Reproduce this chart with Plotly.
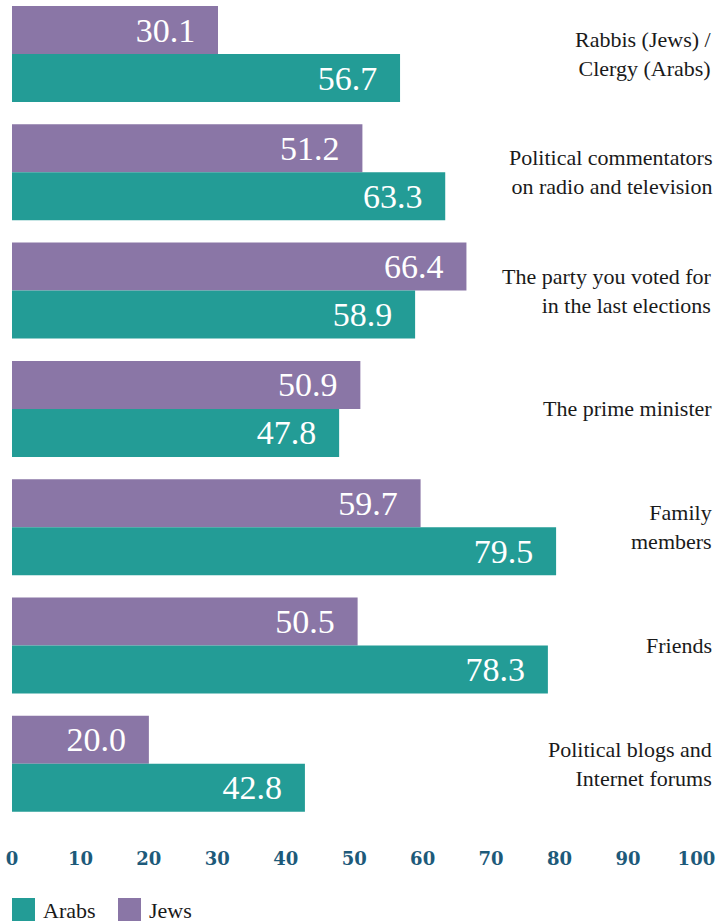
import plotly.graph_objects as go

# Survey categories (top to bottom) and trust levels per group
categories = [
    "Rabbis (Jews) /<br>Clergy (Arabs)",
    "Political commentators<br>on radio and television",
    "The party you voted for<br>in the last elections",
    "The prime minister",
    "Family<br>members",
    "Friends",
    "Political blogs and<br>Internet forums",
]
jews = [30.1, 51.2, 66.4, 50.9, 59.7, 50.5, 20.0]
arabs = [56.7, 63.3, 58.9, 47.8, 79.5, 78.3, 42.8]
x_ticks = [0, 10, 20, 30, 40, 50, 60, 70, 80, 90, 100]

series_names = ["Arabs", "Jews"]
series_colors = ["#239c96", "#8a76a6"]

W, H = 720, 922
M_L, M_R, M_T, M_B = 12, 6, 0, 84
PLOT_H = H - M_T - M_B

SERIF = "Liberation Serif"
LABEL_PAD = "\u00a0\u00a0\u200a"

fig = go.Figure()
for vals, name, color in [(jews, "Jews", series_colors[1]), (arabs, "Arabs", series_colors[0])]:
    fig.add_trace(go.Bar(
        y=categories, x=vals, orientation="h", name=name,
        marker=dict(color=color, line=dict(width=0)),
        text=[f"{v:.1f}{LABEL_PAD}" for v in vals],
        textposition="inside", insidetextanchor="end",
        textfont=dict(family=SERIF, size=34, color="white"),
        constraintext="none", textangle=0, showlegend=False,
    ))

# category slot = 118.3 px, first group centered 54 px below the top
slot = PLOT_H / 7.0835
y_top = -54 / slot
y_bot = (PLOT_H - 54) / slot

fig.update_layout(
    width=W, height=H,
    margin=dict(l=M_L, r=M_R, t=M_T, b=M_B, pad=0),
    paper_bgcolor="white", plot_bgcolor="white",
    barmode="group", bargap=0.1885, bargroupgap=0,
    showlegend=False,
    xaxis=dict(
        range=[0, 702 / 6.844], tickvals=x_ticks, ticktext=[str(t) for t in x_ticks],
        showgrid=False, zeroline=False, showline=False,
        ticks="outside", ticklen=4, tickcolor="rgba(0,0,0,0)",
        tickfont=dict(family="DejaVu Serif", size=18, color="#1d5a7a", weight="bold"),
    ),
    yaxis=dict(
        type="category", categoryorder="array", categoryarray=categories,
        range=[y_bot, y_top], showticklabels=False,
        showgrid=False, zeroline=False, showline=False, ticks="",
    ),
)

# Category names, right-aligned against the right edge of the chart
for cat in categories:
    fig.add_annotation(xref="paper", yref="y", x=1.0, y=cat, text=cat,
                       showarrow=False, xanchor="right", yanchor="middle", align="right",
                       font=dict(family=SERIF, size=22, color="#1a1a1a"))

# Legend: colour swatches with series names beneath the axis
def py(pix):
    return (PLOT_H - (pix - M_T)) / PLOT_H

def px(pix):
    return (pix - M_L) / (W - M_L - M_R)

legend_x = [12, 118]
for name, color, x0 in zip(series_names, series_colors, legend_x):
    fig.add_shape(type="rect", xref="paper", yref="paper",
                  x0=px(x0), x1=px(x0 + 23), y0=py(898), y1=py(921),
                  fillcolor=color, line=dict(width=0))
    fig.add_annotation(xref="paper", yref="paper", x=px(x0 + 29), y=py(910),
                       text=name, showarrow=False, xanchor="left", yanchor="middle",
                       font=dict(family=SERIF, size=22, color="#1a1a1a"))

fig.write_html("out.html")
